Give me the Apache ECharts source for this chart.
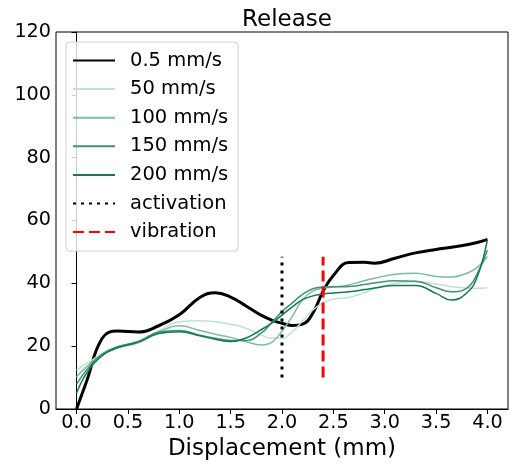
<!DOCTYPE html>
<html><head><meta charset="utf-8">
<script src="https://cdn.jsdelivr.net/npm/echarts@6/dist/echarts.min.js"></script>
<style>html,body{margin:0;padding:0;background:#fff}#c{width:513px;height:469px}</style>
</head><body><div id="c"></div>
<script>
const xs = [0, 0.1, 0.25, 0.4, 0.6, 0.8, 1.0, 1.2, 1.35, 1.5, 1.65, 1.8, 1.9, 2.0, 2.1, 2.2, 2.3, 2.4, 2.5, 2.65, 2.8, 2.9, 3.1, 3.3, 3.5, 3.65, 3.8, 3.9, 4.0];
const v05  = [0, 9, 22.5, 24.8, 24.5, 26.5, 30, 35.5, 37, 35.6, 32.8, 29.8, 28.3, 27.3, 26.6, 27, 30.5, 37.5, 42.5, 46.6, 46.7, 46.4, 48.0, 49.7, 50.8, 51.5, 52.3, 53, 54];
const v50  = [12.4, 14.5, 17.5, 19.5, 21, 24.8, 27.8, 28.1, 27.8, 27, 25.7, 23.5, 22.5, 22.5, 24.5, 28, 31.5, 33.8, 35, 35.5, 37, 38.2, 40, 40.6, 39.8, 38.9, 38.5, 38.4, 38.6];
const v100 = [10.3, 13.5, 17.5, 19.8, 21.5, 24.5, 26.5, 25, 23.8, 22.8, 21.4, 20.4, 21.2, 24.8, 29.5, 34.8, 37.5, 38.5, 38.8, 39.5, 40.8, 41.6, 42.9, 43.2, 42.2, 42, 43.2, 45, 48.5];
const v150 = [7.9, 12.5, 17.5, 19.8, 21.5, 24.5, 25, 23.5, 22.5, 21.8, 21.8, 24.2, 27.5, 31, 33.8, 36.5, 38.3, 38.8, 38.9, 39, 39.6, 40.1, 40.8, 40.7, 38.6, 37.3, 38.5, 43, 50.5];
const v200 = [5.0, 11.5, 17, 19.5, 21.2, 24, 24.6, 23.3, 22.2, 21.5, 22.6, 25.3, 27.3, 29.9, 32.5, 34.8, 36, 36.6, 36.9, 37.3, 38, 38.5, 39.3, 39.3, 36.8, 34.7, 37, 42, 54];
const activationX = 2.0, vibrationX = 2.4;
const markerRange = [10, 48.5];
const seriesNames = ['0.5 mm/s', '50 mm/s', '100 mm/s', '150 mm/s', '200 mm/s', 'activation', 'vibration'];
const xTicks = [0, 0.5, 1.0, 1.5, 2.0, 2.5, 3.0, 3.5, 4.0];
const yTicks = [0, 20, 40, 60, 80, 100, 120];

const F = 'DejaVu Sans';
const pair = (ys) => xs.map((x, i) => [x, ys[i]]);
const lineS = (name, ys, color, w) => ({
  name, type: 'line', data: pair(ys), smooth: 0.45, showSymbol: false, symbol: 'none',
  lineStyle: {color, width: w}, itemStyle: {color, opacity: 0}, clip: false
});
const chart = echarts.init(document.getElementById('c'), null, {renderer: 'canvas'});
chart.setOption({
  animation: false,
  backgroundColor: '#fff',
  title: {text: 'Release', left: 282, textAlign: 'center', top: 4,
    textStyle: {fontFamily: F, fontSize: 23, fontWeight: 'normal', color: '#000'}},
  grid: {left: 56, right: 5, top: 32, bottom: 60, show: true, borderColor: '#000', borderWidth: 1, containLabel: false},
  legend: {
    orient: 'vertical', left: 66, top: 42, padding: [8.5, 10, 9, 6],
    backgroundColor: 'rgba(255,255,255,0.8)', borderColor: '#d0d0d0', borderWidth: 1, borderRadius: 4,
    itemWidth: 42, itemHeight: 20, itemGap: 8.6,
    itemStyle: {opacity: 0},
    textStyle: {fontFamily: F, fontSize: 19.5, color: '#000', padding: [0, 0, 0, 10]},
    data: seriesNames
  },
  xAxis: {
    type: 'value', min: -0.2, max: 4.2,
    name: 'Displacement (mm)', nameLocation: 'middle', nameGap: 25,
    nameTextStyle: {fontFamily: F, fontSize: 23, color: '#000'},
    axisLine: {show: true, onZero: false, lineStyle: {color: '#000', width: 1}},
    axisTick: {show: true, length: 5, customValues: xTicks, lineStyle: {color: '#000'}},
    axisLabel: {customValues: xTicks, fontFamily: F, fontSize: 19.2, color: '#000', margin: 5,
      formatter: v => v.toFixed(1)},
    splitLine: {show: false}
  },
  yAxis: {
    type: 'value', min: 0, max: 120, interval: 20,
    axisLine: {show: true, lineStyle: {color: '#000', width: 1}},
    axisTick: {show: true, length: 5, lineStyle: {color: '#000'}},
    axisLabel: {fontFamily: F, fontSize: 19.2, color: '#000', margin: 5},
    splitLine: {show: false}
  },
  series: [
    lineS(seriesNames[0], v05, '#000000', 3),
    lineS(seriesNames[1], v50, '#bfe2d2', 1.5),
    lineS(seriesNames[2], v100, '#7cbf9e', 1.5),
    lineS(seriesNames[3], v150, '#3f9470', 1.5),
    lineS(seriesNames[4], v200, '#137a50', 1.5),
    {name: seriesNames[5], type: 'line', showSymbol: false, symbol: 'none',
      data: markerRange.map(y => [activationX, y]),
      lineStyle: {color: '#000', width: 3, type: [3, 5], cap: 'butt'}, itemStyle: {color: '#000', opacity: 0}},
    {name: seriesNames[6], type: 'line', showSymbol: false, symbol: 'none',
      data: markerRange.map(y => [vibrationX, y]),
      lineStyle: {color: '#ff0000', width: 3, type: [11, 5], cap: 'butt'}, itemStyle: {color: '#ff0000', opacity: 0}}
  ]
});
</script></body></html>
